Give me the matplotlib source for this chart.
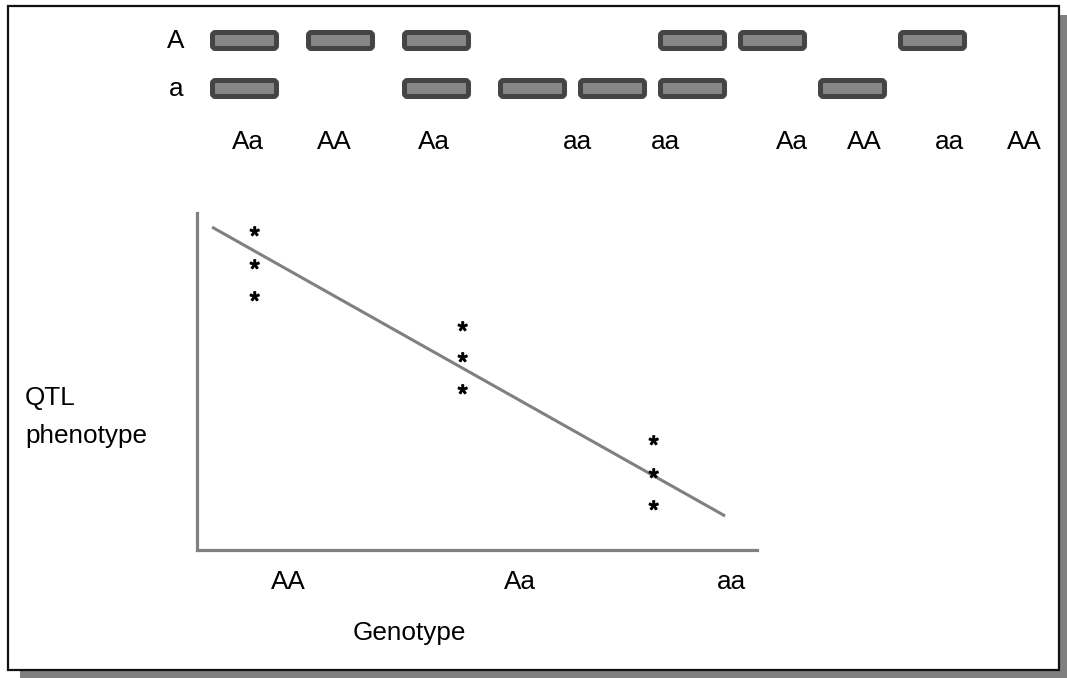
import numpy as np
import matplotlib
matplotlib.use("Agg")
import matplotlib.pyplot as plt
from matplotlib.patches import Rectangle, FancyBboxPatch
from matplotlib.textpath import TextPath
from matplotlib.font_manager import FontProperties
from matplotlib.path import Path

# ---------------- data ----------------
allele_labels = ["A", "a"]
lane_x = [210, 306, 402, 498, 578, 658, 738, 818, 898]          # lane left edges (px)
band_A = [1, 1, 1, 0, 0, 1, 1, 0, 1]                             # presence of A band
band_a = [1, 0, 1, 1, 1, 1, 0, 1, 0]                             # presence of a band
lane_genotypes = ["Aa", "AA", "Aa", "aa", "aa", "Aa", "AA", "aa", "AA"]
lane_label_x = [248, 334, 434, 577, 666, 792, 864, 949, 1024]

geno_cats = ["AA", "Aa", "aa"]
geno_tick_x = [0.1625, 0.577, 0.955]
star_x = [0.102, 0.473, 0.814]
phenotype = [[93.5, 83.7, 74.2],
             [65.3, 56.1, 46.6],
             [31.5, 21.7, 12.2]]
fit_x = [0.027, 0.943]
fit_y = [95.8, 10.1]

# ---------------- figure ----------------
W, H = 1067, 678
fig = plt.figure(figsize=(W / 100, H / 100), dpi=100)
plt.rcParams['font.family'] = ['Liberation Sans', 'DejaVu Sans']
FS = 18.8

bg = fig.add_axes([0, 0, 1, 1])
bg.set_xlim(0, W)
bg.set_ylim(H, 0)
bg.axis("off")

# shadow + frame
bg.add_patch(Rectangle((20, 15), W - 20, H - 15, facecolor="#808080", edgecolor="none", zorder=0))
bg.add_patch(Rectangle((8, 6), 1051, 664, facecolor="white", edgecolor="#111111", lw=1.6, zorder=1))

# bands
band_w, band_h = 64, 16
row_y = [32.5, 80.5]
for row, pres in enumerate([band_A, band_a]):
    for lx, p in zip(lane_x, pres):
        if p:
            bg.add_patch(FancyBboxPatch((lx + 2.5, row_y[row]), band_w, band_h,
                                        boxstyle="round,pad=0,rounding_size=3",
                                        facecolor="#868686", edgecolor="#444444",
                                        lw=3.6, zorder=2))
    bg.text(176, row_y[row] + band_h / 2 + 1, allele_labels[row], fontsize=FS,
            ha="center", va="center", zorder=3)

for gx, g in zip(lane_label_x, lane_genotypes):
    bg.text(gx, 142, g, fontsize=FS, ha="center", va="center", zorder=3)

bg.text(25, 398, "QTL", fontsize=FS, ha="left", va="center", zorder=3)
bg.text(25, 436, "phenotype", fontsize=FS, ha="left", va="center", zorder=3)

# ---------------- inner plot ----------------
L, R, T, B = 197, 757, 213, 550
ax = fig.add_axes([L / W, 1 - B / H, (R - L) / W, (B - T) / H])
ax.set_xlim(0, 1)
ax.set_ylim(0, 100)
ax.patch.set_alpha(0)
for s in ["top", "right"]:
    ax.spines[s].set_visible(False)
for s in ["left", "bottom"]:
    ax.spines[s].set_color("#808080")
    ax.spines[s].set_linewidth(2.3)
ax.set_xticks([])
ax.set_yticks([])

ax.plot(fit_x, fit_y, color="#808080", lw=2.2, solid_capstyle="butt", zorder=2)

# asterisk marker from font glyph
tp = TextPath((0, 0), "*", prop=FontProperties(family="Liberation Sans"), size=10)
v = tp.vertices.copy()
c = (v.min(axis=0) + v.max(axis=0)) / 2
star_path = Path(v - c, tp.codes)
for sx, ys in zip(star_x, phenotype):
    ax.plot([sx] * len(ys), ys, linestyle="none", marker=star_path,
            markersize=12.5, color="black", zorder=3, clip_on=False)

for tx, g in zip(geno_tick_x, geno_cats):
    ax.text(tx, -9.5, g, transform=ax.transData, fontsize=FS, ha="center", va="center", clip_on=False)
ax.text(0.38, -24.5, "Genotype", fontsize=FS, ha="center", va="center", clip_on=False)

fig.savefig("out.png", dpi=100)
